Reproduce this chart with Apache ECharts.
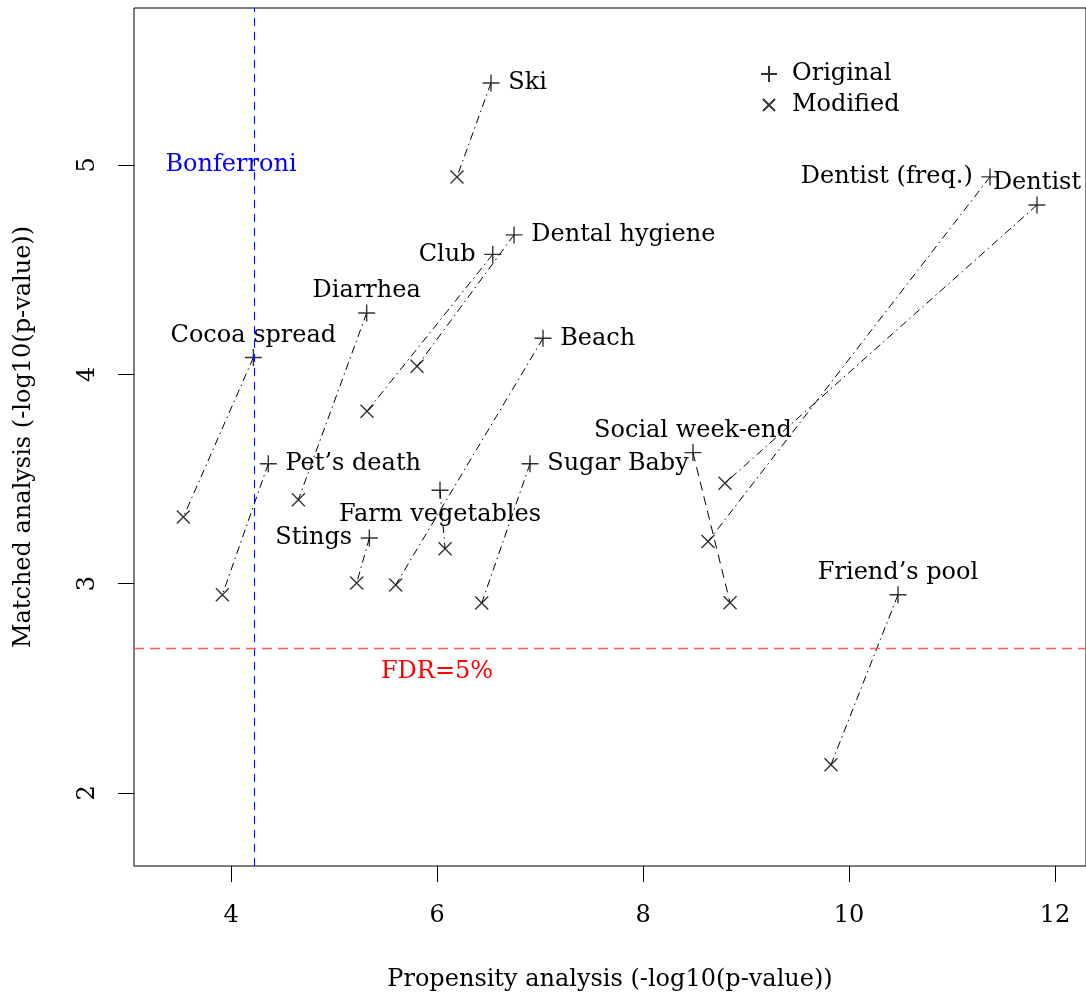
<!DOCTYPE html>
<html>
<head>
<meta charset="utf-8">
<script src="https://cdn.jsdelivr.net/npm/echarts@6/dist/echarts.min.js"></script>
<style>
html,body{margin:0;padding:0;background:#fff;}
#c{width:1086px;height:999px;}
</style>
</head>
<body>
<div id="c"></div>
<script>
// ---- data ----
var names = ['Ski','Dental hygiene','Club','Diarrhea','Cocoa spread','Beach','Pet\u2019s death','Farm vegetables','Sugar Baby','Stings','Social week-end','Dentist (freq.)','Dentist','Friend\u2019s pool'];
var origX = [6.524, 6.748, 6.541, 5.317, 4.217, 7.029, 4.362, 6.029, 6.903, 5.343, 8.485, 11.369, 11.825, 10.476];
var origY = [5.392, 4.666, 4.573, 4.293, 4.080, 4.172, 3.573, 3.446, 3.573, 3.218, 3.626, 4.943, 4.809, 2.947];
var modX  = [6.194, 5.806, 5.320, 4.654, 3.537, 5.599, 3.916, 6.078, 6.434, 5.220, 8.845, 8.631, 8.796, 9.825];
var modY  = [4.943, 4.038, 3.823, 3.401, 3.318, 2.994, 2.947, 3.167, 2.907, 3.003, 2.909, 3.201, 3.480, 2.135];
var bonferroni = 4.233;
var fdr = 2.694;
var xTicks = [4, 6, 8, 10, 12];
var yTicks = [2, 3, 4, 5];

// ---- style (not data) ----
var labelSide = ['right','right','left','top','top','right','right','bottom','right','left','top','left','top','top'];
var lineKind  = ['dd','dd','dd','dd','dd','dd','dd','dd','dd','dd','dash','dd','dd','dd'];
var FONT = 'DejaVu Serif';
var PLUS = 'path://M0,8L16,8M8,0L8,16';
var CROSS = 'path://M0,0L16,16M16,0L0,16';
var CROSS_LEG = 'path://M0,0M16,16M2,2L14,14M14,2L2,14';

var txt = {color: '#000', opacity: 1, textBorderWidth: 0, fontFamily: FONT, fontSize: 24};

var series = [];
for (var i = 0; i < names.length; i++) {
  series.push({
    type: 'line',
    data: [[origX[i], origY[i]], [modX[i], modY[i]]],
    symbol: 'none',
    silent: true,
    z: 1,
    lineStyle: {color: '#000', width: 1, type: lineKind[i] === 'dash' ? [9, 6] : [8, 4, 1.5, 4]}
  });
}
var origData = names.map(function (n, i) {
  return {name: n, value: [origX[i], origY[i]],
    label: {position: labelSide[i], distance: labelSide[i] === 'top' ? 1 : (labelSide[i] === 'bottom' ? 3 : 8)}};
});
var modData = names.map(function (n, i) { return {name: n, value: [modX[i], modY[i]]}; });

series.push({
  name: 'Original', type: 'scatter', data: origData, symbol: PLUS, symbolSize: 17, z: 3,
  itemStyle: {color: 'transparent', borderColor: '#000', borderWidth: 1.4},
  label: Object.assign({show: true, formatter: '{b}'}, txt),
  emphasis: {disabled: true}
});
series.push({
  name: 'Modified', type: 'scatter', data: modData, symbol: CROSS, symbolSize: 13, z: 3,
  itemStyle: {color: 'transparent', borderColor: '#000', borderWidth: 1.4},
  emphasis: {disabled: true}
});
// threshold lines + their labels
series.push({
  type: 'scatter', silent: true, symbolSize: 0, z: 4,
  data: [
    {value: [4, 5], name: 'Bonferroni', label: {color: '#0000ff'}},
    {value: [6, 2.58], name: 'FDR=5%', label: {color: '#ff0000'}}
  ],
  label: Object.assign({show: true, position: 'inside', formatter: '{b}'}, txt),
  emphasis: {disabled: true},
  markLine: {
    silent: true, symbol: 'none', label: {show: false},
    data: [
      {xAxis: bonferroni, lineStyle: {color: '#0000ff', width: 1, type: [8, 6]}},
      {yAxis: fdr, lineStyle: {color: '#ff5c5c', width: 1.3, type: [10, 6]}}
    ]
  }
});

var chart = echarts.init(document.getElementById('c'));
chart.setOption({
  animation: false,
  backgroundColor: '#fff',
  grid: {left: 134, top: 8, right: 0, bottom: 133, show: true, borderColor: '#000', borderWidth: 1},
  legend: {
    orient: 'vertical', left: 755, top: 57, itemGap: 7, itemWidth: 16, itemHeight: 16,
    data: [{name: 'Original', icon: PLUS}, {name: 'Modified', icon: CROSS_LEG}],
    textStyle: {fontFamily: FONT, fontSize: 24, color: '#000', padding: [0, 0, 0, 10]},
    selectedMode: false
  },
  xAxis: {
    type: 'value', min: 3.058, max: 12.301,
    name: 'Propensity analysis (-log10(p-value))', nameLocation: 'middle', nameGap: 102,
    nameTextStyle: {fontFamily: FONT, fontSize: 24, color: '#000'},
    axisLine: {show: false}, splitLine: {show: false},
    axisTick: {show: true, inside: false, length: 16, customValues: xTicks, lineStyle: {color: '#000'}},
    axisLabel: {customValues: xTicks, margin: 38, fontFamily: FONT, fontSize: 24, color: '#000'}
  },
  yAxis: {
    type: 'value', min: 1.651, max: 5.75,
    name: 'Matched analysis (-log10(p-value))', nameLocation: 'middle', nameGap: 98,
    nameTextStyle: {fontFamily: FONT, fontSize: 24, color: '#000'},
    axisLine: {show: false}, splitLine: {show: false},
    axisTick: {show: true, inside: false, length: 16, customValues: yTicks, lineStyle: {color: '#000'}},
    axisLabel: {customValues: yTicks, rotate: 90, margin: 34, fontFamily: FONT, fontSize: 24, color: '#000'}
  },
  series: series
});
</script>
</body>
</html>
